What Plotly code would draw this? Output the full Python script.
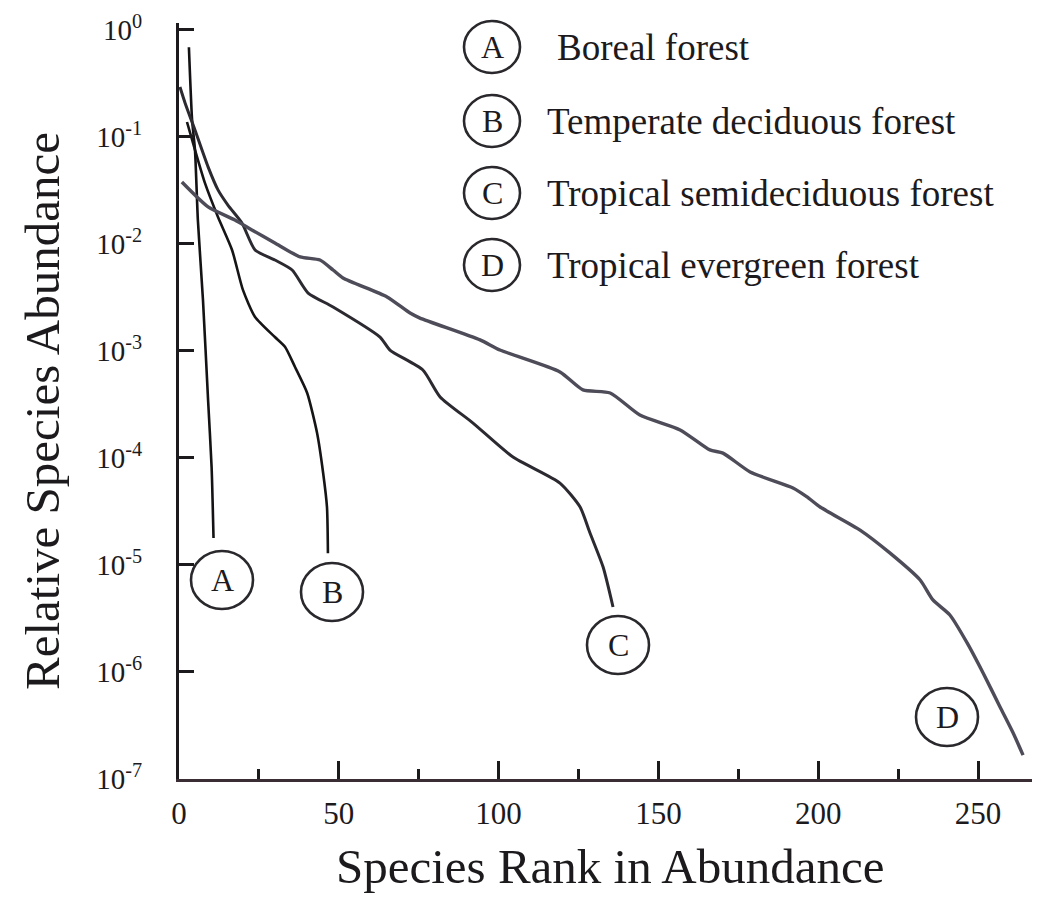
import plotly.graph_objects as go

# ---- Data (rank, relative abundance) ----
boreal_rank = [3.1, 4.1, 5.0, 5.9, 7.5, 9.1, 10.2, 10.8]
boreal_abund = [0.69, 0.144, 0.0757, 0.01675, 0.0030, 3.48e-4, 8.24e-5, 1.79e-5]

temperate_rank = [2.5, 5.0, 8.1, 12.2, 16.6, 20.0, 23.8, 30.0, 33.2, 36.3, 40.1, 43.2, 45.1, 46.3, 46.6]
temperate_abund = [0.138, 0.0757, 0.0372, 0.01786, 0.00879, 0.00372, 0.00208, 0.00135, 0.00109,
                   7.08e-4, 4.05e-4, 1.71e-4, 7.24e-5, 3.48e-5, 1.29e-5]

semidec_rank = [0.3, 1.9, 5.0, 9.1, 12.2, 15.3, 19.7, 23.8, 30.0, 35.4, 40.4, 48.2, 62.9, 66.0,
                76.3, 81.7, 92.0, 104.5, 119.2, 125.5, 128.6, 132.7, 135.8]
semidec_abund = [0.293, 0.208, 0.116, 0.0525, 0.0320, 0.0231, 0.0157, 0.00879, 0.00708, 0.00571,
                 0.00348, 0.00258, 0.00135, 0.00102, 6.64e-4, 3.72e-4, 2.12e-4, 1.02e-4, 5.83e-5,
                 3.48e-5, 1.99e-5, 9.57e-6, 4.05e-6]

evergreen_rank = [0.9, 9.1, 17.5, 22.8, 30.0, 37.9, 44.1, 48.2, 51.3, 65.1, 72.3, 75.4, 94.2, 100.4,
                  119.2, 126.4, 134.9, 144.2, 156.8, 166.1, 170.2, 178.7, 192.1, 196.5, 200.6, 213.1,
                  222.5, 231.9, 235.9, 241.2, 246.6, 251.6, 256.9, 261.0, 264.1]
evergreen_abund = [0.0379, 0.0222, 0.01675, 0.01352, 0.01021, 0.00757, 0.00708, 0.00571, 0.00481,
                   0.00320, 0.00226, 0.00203, 0.00127, 0.00102, 6.37e-4, 4.33e-4, 4.05e-4, 2.52e-4,
                   1.83e-4, 1.19e-4, 1.11e-4, 7.40e-5, 5.25e-5, 4.33e-5, 3.48e-5, 2.12e-5, 1.29e-5,
                   7.24e-6, 4.71e-6, 3.41e-6, 1.87e-6, 9.79e-7, 4.71e-7, 2.69e-7, 1.67e-7]

letters = ["A", "B", "C", "D"]
names = ["Boreal forest", "Temperate deciduous forest",
         "Tropical semideciduous forest", "Tropical evergreen forest"]

x_ticks = [0, 50, 100, 150, 200, 250]
y_exps = [0, -1, -2, -3, -4, -5, -6, -7]

# ---- Layout geometry (pixels in the 1040x898 window; page body has an 8px margin) ----
OFF = 8
W, H = 1040 - OFF, 898 - OFF
L_PX, R_PX, T_PX, B_PX = 179, 1040, 23, 779
FONT = "Liberation Serif, 'Times New Roman', serif"
INK = "#1c1a1c"


def px(xp, yp):
    return (xp - L_PX) / (R_PX - L_PX), (B_PX - yp) / (B_PX - T_PX)


fig = go.Figure()
series = [
    (boreal_rank, boreal_abund, "#141214", 2.6),
    (temperate_rank, temperate_abund, "#161416", 2.6),
    (semidec_rank, semidec_abund, "#2c2a30", 3.0),
    (evergreen_rank, evergreen_abund, "#4e4c58", 3.4),
]
for (xs, ys, col, w), nm in zip(series, names):
    fig.add_trace(go.Scatter(x=xs, y=ys, mode="lines", name=nm,
                             line=dict(color=col, width=w, shape="spline", smoothing=0.6),
                             showlegend=False, hoverinfo="x+y+name"))

shapes = []
annotations = []


def circle_label(cx, cy, letter, rx=31, ry=29, size=32):
    x0, y0 = px(cx - rx, cy + ry)
    x1, y1 = px(cx + rx, cy - ry)
    shapes.append(dict(type="circle", xref="paper", yref="paper", x0=x0, y0=y0, x1=x1, y1=y1,
                       line=dict(color="#2a282c", width=2.6)))
    ax, ay = px(cx, cy)
    annotations.append(dict(text=letter, x=ax, y=ay, xref="paper", yref="paper",
                            xanchor="center", yanchor="middle", showarrow=False,
                            font=dict(family=FONT, size=size, color=INK)))


# curve end labels
circle_label(222, 580, "A")
circle_label(332, 592, "B")
circle_label(618, 645, "C")
circle_label(947, 717, "D")

# legend block
leg_y = [47, 121, 193, 265]
text_x = [555, 545, 545, 545]
for yy, letter, nm, tx in zip(leg_y, letters, names, text_x):
    circle_label(492, yy, letter, rx=28, ry=26, size=32)
    ax, ay = px(tx, yy)
    annotations.append(dict(text=nm, x=ax, y=ay, xref="paper", yref="paper",
                            xanchor="left", yanchor="middle", showarrow=False,
                            font=dict(family=FONT, size=37, color=INK)))

# axis titles
ax, ay = px(610, 866)
annotations.append(dict(text="Species Rank in Abundance", x=ax, y=ay, xref="paper", yref="paper",
                        xanchor="center", yanchor="middle", showarrow=False,
                        font=dict(family=FONT, size=49, color=INK)))
ax, ay = px(42, 411)
annotations.append(dict(text="Relative Species Abundance", x=ax, y=ay, xref="paper", yref="paper",
                        xanchor="center", yanchor="middle", showarrow=False, textangle=-90,
                        font=dict(family=FONT, size=49, color=INK)))

x_max = (R_PX - L_PX) / 3.196

fig.update_layout(
    width=W, height=H,
    margin=dict(l=L_PX - OFF, r=0, t=T_PX - OFF, b=H - (B_PX - OFF)),
    paper_bgcolor="white", plot_bgcolor="white",
    shapes=shapes, annotations=annotations,
    xaxis=dict(range=[0, x_max], tickvals=x_ticks, ticktext=[str(v) for v in x_ticks],
               showgrid=False, zeroline=False, showline=True, linecolor="#3a2e34", linewidth=3,
               ticks="inside", ticklen=18, tickwidth=2.5, tickcolor="#1c1a1c",
               minor=dict(dtick=25, tick0=0, ticks="inside", ticklen=10, tickwidth=2.5,
                          tickcolor="#1c1a1c", showgrid=False),
               tickfont=dict(family=FONT, size=31, color=INK), ticklabelstandoff=5),
    yaxis=dict(type="log", range=[-7, 0.065],
               tickvals=[10.0 ** e for e in y_exps],
               ticktext=["10<sup>%d</sup>" % e for e in y_exps],
               showgrid=False, zeroline=False, showline=True, linecolor="#1c1a1c", linewidth=3,
               ticks="inside", ticklen=15, tickwidth=2.5, tickcolor="#1c1a1c",
               tickfont=dict(family=FONT, size=29, color=INK), ticklabelstandoff=28),
)

fig.write_html("out.html")
